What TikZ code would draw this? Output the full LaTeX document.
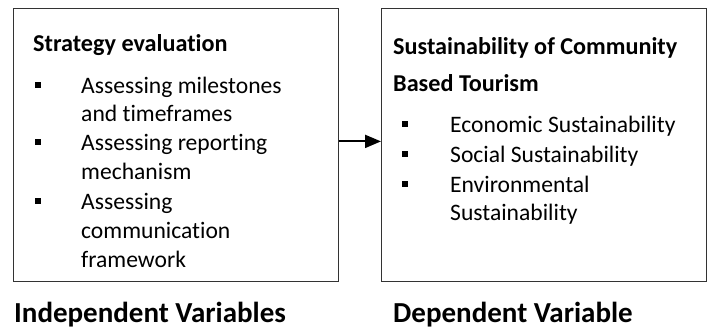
\documentclass[tikz,border=0pt]{standalone}
\usepackage{fontspec}
\setmainfont[Ligatures=NoCommon]{Carlito}
\usetikzlibrary{arrows.meta,positioning}

\begin{document}
\begin{tikzpicture}[x=1pt,y=-1pt,>={Triangle[length=16pt,width=13pt]},
    box/.style={draw=black!80,line width=0.8pt,minimum width=325pt,minimum height=273pt,inner sep=0pt,anchor=north west},
    head/.style={anchor=base west,inner sep=0pt,font=\fontsize{24.2}{28}\selectfont\bfseries},
    item/.style={anchor=base west,inner sep=0pt,font=\fontsize{23.6}{28}\selectfont},
    bullet/.style={fill=black,minimum size=6pt,inner sep=0pt},
    caption/.style={anchor=base west,inner sep=0pt,font=\fontsize{29}{34}\selectfont\bfseries}]
        \useasboundingbox (0,0) rectangle (712,329);

        \node[box] (ind) at (13,8) {};
        \node[box] (dep) at (381,8) {};

        % independent side
        \node[head] (se) at (33,52) {Strategy evaluation};
        \node[bullet] (b1) at (38,85) {};
        \node[item] (i1) at (81,93) {Assessing milestones};
        \node[item] (i1b) at (81,121) {and timeframes};
        \node[bullet] (b2) at (38,142) {};
        \node[item] (i2) at (81,150) {Assessing reporting};
        \node[item] (i2b) at (81,179) {mechanism};
        \node[bullet] (b3) at (38,201) {};
        \node[item] (i3) at (81,209) {Assessing};
        \node[item] (i3b) at (81,238) {communication};
        \node[item] (i3c) at (81,267) {framework};

        % dependent side
        \node[head] (sc) at (393,55) {Sustainability of Community};
        \node[head] (bt) at (393,92) {Based Tourism};
        \node[bullet] (d1) at (405,124) {};
        \node[item] (j1) at (450,132) {Economic Sustainability};
        \node[bullet] (d2) at (405,154) {};
        \node[item] (j2) at (450,162) {Social Sustainability};
        \node[bullet] (d3) at (405,184) {};
        \node[item] (j3) at (450,192) {Environmental};
        \node[item] (j3b) at (450,220) {Sustainability};

        \node[caption] (iv) at (14,322) {Independent Variables};
        \node[caption] (dv) at (393,322) {Dependent Variable};

        \draw[->,line width=2pt] ([yshift=3.5pt]ind.east) -- ([yshift=3.5pt]dep.west);
\end{tikzpicture}
\end{document}
